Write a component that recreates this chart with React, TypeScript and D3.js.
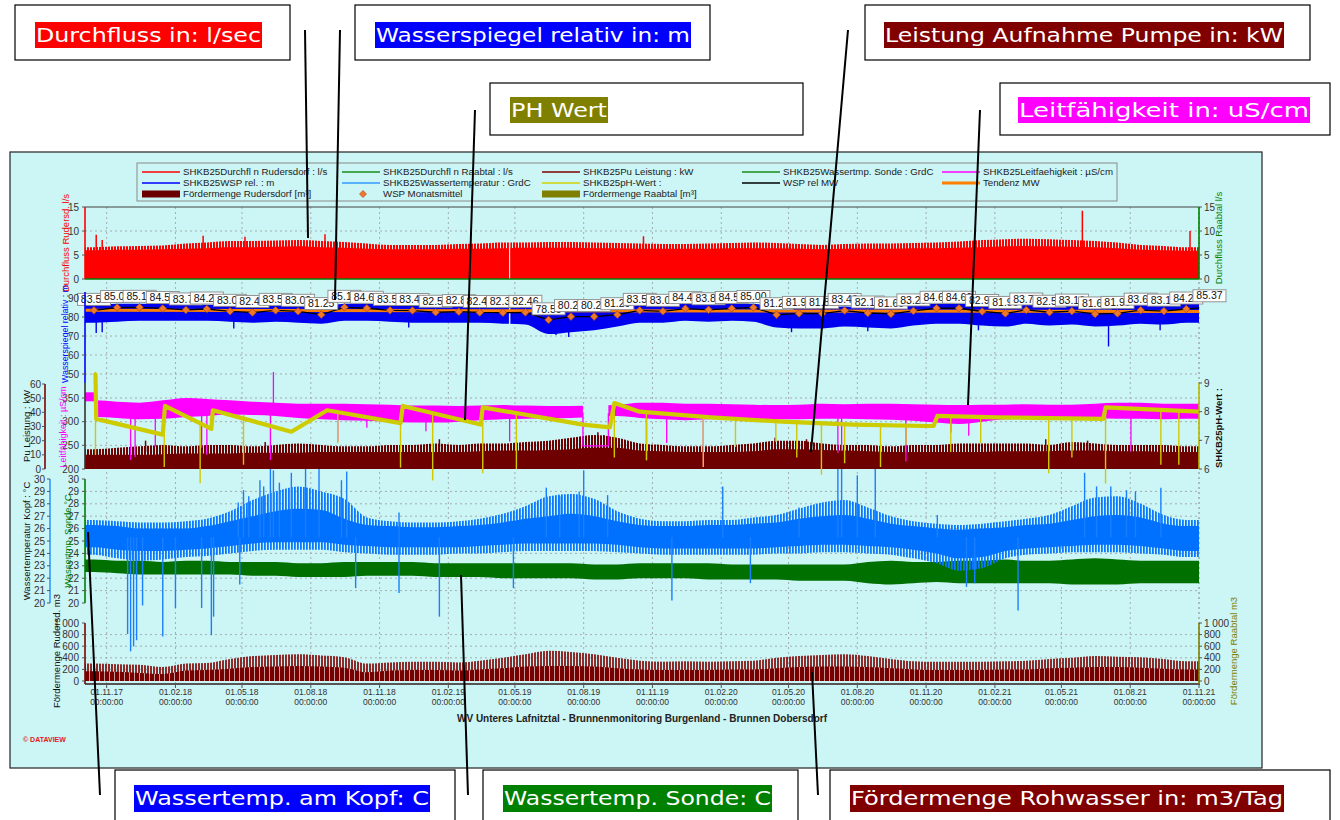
import React from "react";
import * as d3 from "d3";

// ---------- time axis ----------
const parse = d3.timeParse("%Y-%m-%d");
const D = (s: string) => parse(s) as Date;
const T_START = D("2017-10-03");
const T_END = D("2021-11-01");

// mid-month sample dates, Oct 2017 .. Oct 2021 (49 months)
const months = d3
  .timeMonth.range(new Date(2017, 9, 1), new Date(2021, 9, 2))
  .map((d) => new Date(d.getFullYear(), d.getMonth(), 15));
// monthly WSP means, Oct 2017 .. Nov 2021 (50 months)
const wspMonthDates = d3
  .timeMonth.range(new Date(2017, 9, 1), new Date(2021, 10, 2))
  .map((d) => new Date(d.getFullYear(), d.getMonth(), 15));
const xTickDates = d3.timeMonth.range(new Date(2017, 10, 1), new Date(2021, 10, 2), 3);

// ---------- data ----------
// Durchfluss Rudersdorf l/s (solid level / ragged top)
const rudBase = [6.0, 6.1, 6.1, 6.2, 6.3, 6.4, 6.6, 6.6, 6.7, 6.8, 6.6, 6.5, 6.3, 6.2, 6.2, 6.2, 6.3, 6.3, 6.4, 6.5, 6.5, 6.5, 6.4, 6.4, 6.3, 6.3, 6.3, 6.3, 6.4, 6.4, 6.4, 6.3, 6.2, 6.3, 6.3, 6.3, 6.4, 6.4, 6.5, 6.6, 6.8, 6.9, 6.8, 6.7, 6.6, 6.4, 6.1, 6.0, 5.9];
const rudTop = [6.6, 6.8, 6.9, 7.0, 7.4, 7.6, 7.9, 7.9, 8.0, 8.1, 7.9, 7.7, 7.4, 7.1, 7.1, 7.1, 7.3, 7.4, 7.6, 7.6, 7.7, 7.7, 7.6, 7.5, 7.4, 7.3, 7.3, 7.4, 7.5, 7.6, 7.5, 7.3, 7.1, 7.3, 7.4, 7.4, 7.5, 7.6, 7.8, 8.1, 8.3, 8.4, 8.3, 8.1, 7.9, 7.6, 7.1, 6.9, 6.6];
const rudSpikes: [string, number][] = [["2017-10-18", 9.2], ["2017-10-26", 8.1], ["2018-03-10", 9.0], ["2018-05-05", 8.8], ["2018-08-20", 9.3], ["2019-10-20", 8.9], ["2021-05-29", 14.2], ["2021-10-20", 10.0]];
const rudGap = ["2019-04-23", "2019-04-25"];
const raabFlow = [0, 0];

// Wasserspiegel relativ m
const wspLo = [77, 77.5, 78, 78, 78, 78, 77.5, 77, 77.5, 77, 76.5, 78, 78, 77.5, 77, 77, 77, 77, 76.5, 76, 71, 72, 73, 75, 77, 77, 78, 77.5, 78, 77.5, 74.5, 74, 74, 75, 74.5, 74, 75.5, 76.5, 76.5, 75.5, 75, 76.5, 75.5, 76, 75, 75.5, 76.5, 76, 77];
const wspHi = [86.5, 87, 87, 86.8, 86.5, 86.5, 86, 85.5, 86, 86, 85, 87, 87, 86.5, 86.5, 86, 86, 86, 85.5, 85.5, 83, 83.5, 84, 84.5, 86, 86, 87, 86.5, 87, 87, 85, 85, 85, 85.5, 85, 85, 86, 87, 87, 86, 85.5, 86.5, 86, 86, 85.5, 85.5, 86.5, 86, 87];
const wspSpikes: [string, number][] = [["2017-10-18", 71.6], ["2017-10-26", 72.0], ["2018-04-20", 74], ["2018-12-10", 74.5], ["2019-06-25", 70.5], ["2019-07-12", 69.5], ["2020-05-05", 72], ["2020-08-15", 72.5], ["2021-01-10", 73], ["2021-07-03", 64.5], ["2021-09-10", 73]];
const wspMonthly = [83.5, 85.0, 85.1, 84.5, 83.7, 84.2, 83.0, 82.4, 83.5, 83.0, 81.25, 85.1, 84.6, 83.5, 83.4, 82.5, 82.8, 82.4, 82.3, 82.46, 78.5, 80.2, 80.2, 81.2, 83.5, 83.0, 84.4, 83.8, 84.5, 85.0, 81.2, 81.9, 81.8, 83.4, 82.1, 81.6, 83.2, 84.6, 84.6, 82.9, 81.9, 83.7, 82.5, 83.1, 81.6, 81.9, 83.6, 83.1, 84.2, 85.37];
const tendenz = [83.5, 82.9];

// Pumpenleistung kW
const leiBase = [10, 10, 10, 10.5, 11, 11, 11, 11.5, 11.5, 11.5, 12, 12, 12, 12, 12, 12, 12, 12.5, 13, 13, 13.5, 14, 15, 15, 13, 12.5, 12, 12, 12, 12.5, 14, 14, 13.5, 13, 12.5, 12, 12, 12, 12, 12, 12.5, 12.5, 12.5, 13, 13, 12.5, 12.5, 12, 12];
const leiPeak = [14, 15, 16, 17, 16, 17, 17, 16, 17, 18, 17, 16, 16, 17, 17, 18, 17, 18, 18, 19, 20, 22, 24, 22, 18, 17, 16, 16, 17, 18, 20, 20, 18, 17, 17, 16, 17, 17, 18, 18, 18, 18, 17, 19, 18, 17, 17, 17, 16];
const leiSpikes: [string, number][] = [["2017-12-23", 20], ["2018-06-01", 19], ["2019-01-20", 21], ["2019-08-20", 26], ["2019-08-28", 24], ["2020-04-13", 22], ["2020-05-25", 21], ["2021-04-10", 21], ["2021-06-05", 20]];

// Leitfähigkeit µS/cm
const leitLo = [310, 308, 305, 306, 310, 312, 315, 314, 312, 308, 305, 303, 302, 300, 298, 298, 300, 303, 305, 306, 307, 308, 310, 312, 308, 305, 303, 305, 306, 306, 305, 305, 306, 306, 305, 304, 302, 298, 295, 300, 305, 306, 306, 306, 307, 306, 306, 305, 306];
const leitHi = [345, 342, 340, 345, 350, 348, 345, 342, 340, 338, 338, 338, 337, 336, 334, 334, 333, 334, 335, 334, 333, 333, 334, 335, 340, 340, 338, 338, 337, 336, 335, 336, 338, 337, 338, 338, 337, 336, 335, 336, 336, 337, 336, 336, 338, 340, 340, 338, 338];
const leitStart = { from: "2017-10-03", to: "2017-10-16", lo: 343, hi: 362 };
const leitGap = ["2019-07-31", "2019-09-03"];
const leitGapLevel = 249;
const leitSpikes: [string, number][] = [["2017-12-03", 219], ["2017-12-09", 225], ["2018-01-05", 247], ["2018-03-08", 245], ["2018-03-15", 230], ["2018-06-08", 219], ["2018-06-12", 405], ["2018-09-06", 258], ["2018-10-15", 287], ["2019-01-02", 280], ["2019-04-24", 258], ["2019-10-24", 219], ["2019-11-20", 255], ["2020-01-08", 205], ["2020-07-06", 234], ["2020-07-11", 238], ["2020-10-05", 216], ["2020-12-04", 277], ["2020-12-28", 270], ["2021-08-02", 237]];

// pH-Wert
const phLine: [string, number][] = [["2017-10-15", 9.35], ["2017-10-17", 9.3], ["2017-10-18", 7.75], ["2018-01-15", 7.2], ["2018-01-18", 8.2], ["2018-03-21", 7.4], ["2018-03-23", 8.05], ["2018-07-06", 7.3], ["2018-08-23", 8.05], ["2018-11-29", 7.6], ["2018-12-02", 8.2], ["2019-03-16", 7.55], ["2019-03-19", 8.15], ["2019-07-31", 7.55], ["2019-09-05", 7.45], ["2019-09-11", 8.3], ["2019-10-15", 8.0], ["2020-01-18", 7.8], ["2020-04-23", 7.65], ["2020-07-27", 7.55], ["2020-10-31", 7.5], ["2020-11-11", 7.5], ["2020-11-16", 7.85], ["2021-02-03", 7.8], ["2021-06-26", 7.75], ["2021-06-29", 8.15], ["2021-11-01", 8.0]];
const phSpikes: [string, number, number][] = [["2017-10-17", 9.3, 6.5], ["2018-01-17", 7.2, 6.07], ["2018-03-06", 7.6, 5.5], ["2018-05-03", 7.9, 6.15], ["2018-09-06", 7.95, 6.9], ["2018-11-29", 7.6, 6.05], ["2019-01-11", 8.0, 5.6], ["2019-03-19", 8.15, 5.85], ["2019-05-03", 7.9, 6.0], ["2019-09-11", 8.3, 6.4], ["2019-10-24", 7.95, 6.3], ["2020-01-08", 7.8, 6.07], ["2020-02-20", 7.75, 6.77], ["2020-04-14", 7.7, 6.95], ["2020-05-12", 7.65, 6.4], ["2020-06-14", 7.6, 5.8], ["2020-07-15", 7.6, 6.2], ["2020-09-01", 7.55, 6.07], ["2020-10-05", 7.5, 6.84], ["2020-12-04", 7.85, 6.6], ["2021-01-13", 7.8, 6.9], ["2021-04-14", 7.75, 5.85], ["2021-05-15", 7.75, 6.4], ["2021-06-29", 8.15, 5.5], ["2021-09-11", 8.05, 6.15], ["2021-10-05", 8.0, 6.15]];

// Wassertemperatur Kopf °C
const kopfMin = [23.9, 23.6, 23.4, 23.5, 23.7, 23.8, 24.0, 24.2, 24.3, 24.3, 24.3, 24.1, 24.0, 23.9, 23.9, 23.9, 24.0, 24.0, 24.1, 24.2, 24.2, 24.2, 24.2, 24.1, 24.0, 23.9, 23.9, 23.9, 23.9, 23.9, 24.0, 24.0, 24.1, 24.1, 24.0, 23.9, 23.6, 23.2, 22.6, 22.8, 23.6, 23.9, 24.0, 24.1, 24.1, 24.1, 24.0, 23.9, 23.7];
const kopfLo = [24.5, 24.3, 24.2, 24.2, 24.3, 24.4, 24.6, 24.8, 24.9, 24.9, 24.9, 24.7, 24.6, 24.5, 24.5, 24.5, 24.5, 24.6, 24.7, 24.8, 24.8, 24.8, 24.8, 24.7, 24.5, 24.4, 24.4, 24.4, 24.4, 24.4, 24.5, 24.6, 24.7, 24.7, 24.6, 24.5, 24.3, 24.0, 23.6, 23.7, 24.2, 24.4, 24.5, 24.6, 24.7, 24.7, 24.6, 24.4, 24.2];
const kopfHi = [26.3, 26.2, 26.0, 26.0, 26.0, 26.2, 26.6, 27.0, 27.4, 27.6, 27.5, 26.8, 26.3, 26.2, 26.1, 26.1, 26.2, 26.3, 26.5, 26.8, 27.0, 27.2, 27.0, 26.6, 26.3, 26.2, 26.2, 26.3, 26.3, 26.4, 26.5, 26.8, 27.0, 27.1, 26.8, 26.4, 26.2, 26.0, 25.9, 26.0, 26.1, 26.3, 26.4, 26.7, 27.0, 27.1, 26.9, 26.4, 26.2];
const kopfMax = [26.7, 26.6, 26.5, 26.5, 26.6, 26.8, 27.4, 28.3, 29.0, 29.4, 29.0, 28.4, 26.9, 26.6, 26.5, 26.5, 26.6, 26.8, 27.2, 27.8, 28.6, 28.8, 28.4, 27.4, 26.8, 26.6, 26.6, 26.7, 26.7, 26.9, 27.1, 27.6, 28.1, 28.3, 27.7, 27.0, 26.6, 26.4, 26.3, 26.4, 26.6, 26.8, 27.1, 27.8, 28.5, 28.6, 28.0, 27.1, 26.7];
const kopfSpikesDown: [string, number][] = [["2017-11-29", 17.5], ["2017-12-03", 16.1], ["2017-12-07", 16.5], ["2017-12-11", 17.0], ["2017-12-19", 19.8], ["2018-01-15", 17.3], ["2018-02-01", 19.6], ["2018-03-08", 19.6], ["2018-03-21", 17.4], ["2018-03-24", 18.9], ["2018-04-28", 21.5], ["2018-09-30", 21.2], ["2018-11-27", 20.8], ["2019-01-20", 18.9], ["2019-04-29", 21.2], ["2019-11-27", 20.2], ["2020-03-11", 21.6], ["2020-12-25", 21.3], ["2021-01-05", 21.6], ["2021-03-04", 19.4]];
const kopfSpikesUp: [string, number][] = [["2018-04-26", 28.1], ["2018-05-03", 29.1], ["2018-05-10", 28.6], ["2018-05-25", 29.9], ["2018-05-30", 29.4], ["2018-06-08", 30.9], ["2018-06-12", 30.7], ["2018-06-20", 29.7], ["2018-07-06", 30.5], ["2018-07-25", 30.9], ["2018-08-12", 30.9], ["2018-09-11", 29.9], ["2018-09-18", 30.6], ["2018-11-27", 27.3], ["2019-06-12", 29.3], ["2019-06-30", 28.6], ["2019-07-26", 29.0], ["2019-08-01", 30.7], ["2019-09-02", 28.7], ["2020-02-03", 29.4], ["2020-05-15", 27.7], ["2020-07-06", 31.0], ["2020-07-11", 31.0], ["2020-08-01", 30.3], ["2020-08-25", 31.0], ["2020-11-16", 27.1], ["2021-06-01", 30.5], ["2021-06-17", 29.4], ["2021-07-06", 29.4], ["2021-07-27", 29.1], ["2021-08-08", 29.0], ["2021-09-11", 29.3]];
const KOPF_CORE = 25.3;

// Wassertemperatur Sonde °C
const sondeLo = [22.5, 22.4, 22.3, 22.3, 22.3, 22.3, 22.3, 22.2, 22.2, 22.1, 22.1, 22.1, 22.2, 22.2, 22.2, 22.1, 22.1, 22.1, 22.0, 22.0, 22.0, 22.0, 21.9, 21.9, 22.0, 22.0, 22.0, 21.9, 21.9, 21.9, 21.9, 21.8, 21.8, 21.8, 21.6, 21.5, 21.6, 21.7, 21.6, 21.6, 21.6, 21.6, 21.6, 21.5, 21.5, 21.5, 21.6, 21.6, 21.6];
const sondeHi = [23.5, 23.4, 23.4, 23.3, 23.4, 23.4, 23.3, 23.3, 23.3, 23.2, 23.2, 23.3, 23.3, 23.3, 23.3, 23.2, 23.2, 23.2, 23.2, 23.2, 23.2, 23.2, 23.1, 23.1, 23.2, 23.2, 23.2, 23.2, 23.1, 23.1, 23.1, 23.1, 23.1, 23.1, 23.3, 23.4, 23.3, 23.3, 23.4, 23.4, 23.5, 23.4, 23.4, 23.5, 23.6, 23.5, 23.4, 23.4, 23.4];

// Fördermenge Rudersdorf m³/Tag
const foerBase = [170, 160, 140, 120, 180, 190, 210, 240, 250, 260, 250, 230, 150, 180, 190, 190, 180, 200, 220, 250, 260, 260, 250, 220, 200, 190, 190, 190, 200, 200, 220, 240, 250, 250, 240, 220, 200, 190, 190, 190, 200, 200, 220, 230, 240, 240, 230, 210, 200];
const foerPeak = [300, 290, 280, 240, 300, 310, 380, 430, 450, 460, 440, 410, 300, 320, 330, 330, 320, 350, 400, 460, 520, 500, 460, 400, 350, 330, 340, 330, 340, 350, 400, 430, 450, 460, 430, 380, 340, 330, 330, 330, 340, 350, 380, 400, 430, 420, 410, 380, 340];

// axis ticks
const rudTicks = [0, 5, 10, 15];
const wspTicks = [50, 60, 70, 80, 90];
const leiTicks = [0, 10, 20, 30, 40, 50, 60];
const leitTicks = [200, 250, 300, 350];
const phTicks = [6, 7, 8, 9];
const tempTicks = [20, 21, 22, 23, 24, 25, 26, 27, 28, 29, 30];
const foerTicks = [0, 200, 400, 600, 800, 1000];

// ---------- layout ----------
const W = 1340, H = 820;
const PL = 85, PR = 1199, PT = 207, PB = 684;
const FONT = '"Liberation Sans", Arial, Helvetica, sans-serif';
const BG = "#ccf5f5";

const x = d3.scaleTime().domain([T_START, T_END]).range([PL, PR]);
const yRud = d3.scaleLinear().domain([0, 15]).range([279, 207]);
const yWsp = d3.scaleLinear().domain([50, 90]).range([374, 298]);
const yLei = d3.scaleLinear().domain([0, 60]).range([469, 384]);
const yLeit = d3.scaleLinear().domain([200, 350]).range([469, 398]);
const yPh = d3.scaleLinear().domain([6, 9]).range([469, 383]);
const yTemp = d3.scaleLinear().domain([20, 30]).range([603, 479]);
const yFoer = d3.scaleLinear().domain([0, 1000]).range([681, 623]);

type BandPt = { d: Date; a: number; b: number };
function band(lo: number[] | null, hi: number[]): BandPt[] {
  const l = (i: number) => (lo ? lo[i] : 0);
  const n = hi.length - 1;
  return [
    { d: T_START, a: l(0), b: hi[0] },
    ...months.map((d, i) => ({ d, a: l(i), b: hi[i] })),
    { d: T_END, a: l(n), b: hi[n] },
  ];
}
function bandPath(pts: BandPt[], y: d3.ScaleLinear<number, number>) {
  return (
    d3
      .area<BandPt>()
      .x((p) => x(p.d))
      .y0((p) => y(p.a))
      .y1((p) => y(p.b))
      .curve(d3.curveMonotoneX)(pts) || ""
  );
}

const spaceFmt = d3.formatLocale({ decimal: ",", thousands: " ", grouping: [3], currency: ["", "€"] }).format(",");
const dateFmt = d3.timeFormat("%d.%m.%y");

type AxisProps = {
  ax: number;
  y: d3.ScaleLinear<number, number>;
  ticks: number[];
  side: "left" | "right";
  color: string;
  span: [number, number];
  fmt?: (v: number) => string;
  gap?: number;
};
function VAxis({ ax, y, ticks, side, color, span, fmt, gap = 6 }: AxisProps) {
  const s = side === "left" ? -1 : 1;
  return (
    <g>
      <line x1={ax} x2={ax} y1={span[0]} y2={span[1]} stroke={color} strokeWidth={1.6} />
      {ticks.map((t) => (
        <g key={t}>
          <line x1={ax} x2={ax + s * 3} y1={y(t)} y2={y(t)} stroke="#555" strokeWidth={1} />
          <text
            x={ax + s * gap}
            y={y(t)}
            dy="0.35em"
            textAnchor={side === "left" ? "end" : "start"}
            fontSize={10}
            fill="#333"
          >
            {fmt ? fmt(t) : String(t)}
          </text>
        </g>
      ))}
    </g>
  );
}

function VTitle({ cx, cy, text, color, bold, size = 9.5 }: { cx: number; cy: number; text: string; color: string; bold?: boolean; size?: number }) {
  return (
    <text
      transform={`translate(${cx},${cy}) rotate(-90)`}
      textAnchor="middle"
      dominantBaseline="central"
      fontSize={size}
      fontWeight={bold ? 700 : 400}
      fill={color}
    >
      {text}
    </text>
  );
}

function Spikes({ list, y, from, color, width = 1.2 }: { list: [string, number][]; y: d3.ScaleLinear<number, number>; from: number; color: string; width?: number }) {
  return (
    <g>
      {list.map(([d, v], i) => (
        <line key={i} x1={x(D(d))} x2={x(D(d))} y1={y(from)} y2={y(v)} stroke={color} strokeWidth={width} />
      ))}
    </g>
  );
}

// legend entries: [label, color, kind]
const legendRows: [string, string, string][][] = [
  [
    ["SHKB25Durchfl n Rudersdorf : l/s", "#ff0000", "line"],
    ["SHKB25Durchfl n Raabtal : l/s", "#1a8a1a", "line"],
    ["SHKB25Pu Leistung : kW", "#800000", "line"],
    ["SHKB25Wassertmp. Sonde : GrdC", "#1a8a1a", "line"],
    ["SHKB25Leitfaehigkeit : µS/cm", "#ff00ff", "line"],
  ],
  [
    ["SHKB25WSP rel. : m", "#0000ff", "line"],
    ["SHKB25Wassertemperatur : GrdC", "#3399ff", "line"],
    ["SHKB25pH-Wert :", "#d0d000", "line"],
    ["WSP rel MW", "#000000", "line"],
    ["Tendenz MW", "#ff7f00", "thick"],
  ],
  [
    ["Fördermenge Rudersdorf [m³]", "#6b0000", "rect"],
    ["WSP Monatsmittel", "#f07828", "diamond"],
    ["Fördermenge Raabtal [m³]", "#808000", "rect"],
  ],
];

// callout boxes: box [x0,y0,x1,y1], highlight [x0,y0,x1,y1], colour, text, pointer line
const callouts: { box: number[]; hl: number[]; color: string; text: string; ptr: number[] }[] = [
  { box: [15, 5, 290, 60], hl: [35, 22, 262, 48], color: "#ff0000", text: "Durchfluss in: l/sec", ptr: [305, 30, 308, 238] },
  { box: [355, 5, 710, 60], hl: [375, 22, 691, 48], color: "#0000ff", text: "Wasserspiegel relativ in: m", ptr: [340, 30, 335, 300] },
  { box: [865, 5, 1310, 60], hl: [884, 22, 1284, 48], color: "#800000", text: "Leistung Aufnahme Pumpe in: kW", ptr: [848, 30, 811, 452] },
  { box: [490, 83, 803, 135], hl: [510, 97, 608, 123], color: "#808000", text: "PH Wert", ptr: [475, 110, 465, 420] },
  { box: [1000, 83, 1330, 135], hl: [1018, 97, 1310, 123], color: "#ff00ff", text: "Leitfähigkeit in: uS/cm", ptr: [980, 110, 968, 405] },
  { box: [115, 770, 455, 826], hl: [134, 785, 430, 812], color: "#0000ff", text: "Wassertemp. am Kopf: C", ptr: [100, 795, 88, 532] },
  { box: [483, 770, 798, 826], hl: [503, 785, 772, 812], color: "#008000", text: "Wassertemp. Sonde: C", ptr: [468, 795, 461, 575] },
  { box: [830, 770, 1330, 826], hl: [850, 785, 1284, 812], color: "#800000", text: "Fördermenge Rohwasser in: m3/Tag", ptr: [818, 795, 812, 672] },
];

export default function App() {
  const rudBand = band(null, rudTop);
  const rudSolid = band(null, rudBase);
  const wspBand = band(wspLo, wspHi);
  const leiSolid = band(null, leiBase);
  const leiFuzz = band(null, leiPeak);
  const leitBand = band(leitLo, leitHi);
  const kopfFuzz = band(kopfMin, kopfMax);
  const kopfCore = band(kopfLo, kopfHi);
  const sondeBand = band(sondeLo, sondeHi);
  const foerSolid = band(null, foerBase);
  const foerFuzz = band(null, foerPeak);

  const wspPts = wspMonthly.map((v, i) => ({ d: wspMonthDates[i], v }));
  const meanLine = d3.line<{ d: Date; v: number }>().x((p) => x(p.d)).y((p) => yWsp(p.v))(wspPts) || "";
  const phPath =
    d3
      .line<[string, number]>()
      .x((p) => x(D(p[0])))
      .y((p) => yPh(p[1]))(phLine) || "";

  const g0 = x(D(rudGap[0])), g1 = x(D(rudGap[1]));
  const l0 = x(D(leitGap[0])), l1 = x(D(leitGap[1]));
  const ls = x(D(leitStart.to)) + 1;

  return (
    <svg
      width={W}
      height={H}
      viewBox={`0 0 ${W} ${H}`}
      style={{ position: "absolute", left: 0, top: 0, background: "#fff" }}
      fontFamily={FONT}
    >
      <defs>
        <clipPath id="plot">
          <rect x={PL} y={PT} width={PR - PL} height={PB - PT} />
        </clipPath>
        <clipPath id="gapRud">
          <rect x={PL} y={PT} width={g0 - PL} height={PB - PT} />
          <rect x={g1} y={PT} width={PR - g1} height={PB - PT} />
        </clipPath>
        <clipPath id="gapLeit">
          <rect x={ls} y={PT} width={l0 - ls} height={PB - PT} />
          <rect x={l1} y={PT} width={PR - l1} height={PB - PT} />
        </clipPath>
        {/* daily-bar texture for the pumped volume */}
        <pattern id="comb" width={5} height={10} patternUnits="userSpaceOnUse">
          <rect width={5} height={10} fill="#760000" />
          <rect x={4} width={1} height={10} fill="#c79a9a" />
        </pattern>
        <pattern id="combTop" width={3} height={10} patternUnits="userSpaceOnUse">
          <rect width={2} height={10} fill="#8e2a2a" />
        </pattern>
        <pattern id="redTop" width={3} height={10} patternUnits="userSpaceOnUse">
          <rect width={2} height={10} fill="#ff0000" />
        </pattern>
        <pattern id="blueTop" width={3} height={10} patternUnits="userSpaceOnUse">
          <rect width={1.8} height={10} fill="#0a78ff" />
        </pattern>
        <pattern id="leiTop" width={3} height={10} patternUnits="userSpaceOnUse">
          <rect width={2} height={10} fill="#6e0000" />
        </pattern>
      </defs>

      {/* chart frame */}
      <rect x={10} y={152} width={1252} height={616} fill={BG} stroke="#222" strokeWidth={1.2} />

      {/* legend */}
      <rect x={137} y={163} width={980} height={38} fill={BG} stroke="#8a8a8a" strokeWidth={1} />
      {legendRows.map((row, r) =>
        row.map(([label, color, kind], c) => {
          const sx = 142 + c * 200;
          const sy = 172 + r * 11;
          return (
            <g key={`${r}-${c}`}>
              {kind === "line" && <line x1={sx} x2={sx + 38} y1={sy} y2={sy} stroke={color} strokeWidth={1.3} />}
              {kind === "thick" && <line x1={sx} x2={sx + 38} y1={sy} y2={sy} stroke={color} strokeWidth={3} />}
              {kind === "rect" && <rect x={sx} y={sy - 3.5} width={38} height={7} fill={color} />}
              {kind === "diamond" && (
                <path d="M0,-3.5L3.5,0L0,3.5L-3.5,0Z" transform={`translate(${sx + 21},${sy})`} fill={color} stroke="#a04010" strokeWidth={0.6} />
              )}
              <text x={sx + 41} y={sy} dy="0.35em" fontSize={9.7} fill="#222">
                {label}
              </text>
            </g>
          );
        })
      )}

      {/* grid */}
      <g stroke="#9a9a9a" strokeWidth={0.8} strokeDasharray="2,3">
        {xTickDates.map((d, i) => (
          <line key={i} x1={x(d)} x2={x(d)} y1={PT} y2={PB} />
        ))}
        {[5, 10].map((t) => (
          <line key={`r${t}`} x1={PL} x2={PR} y1={yRud(t)} y2={yRud(t)} />
        ))}
        {[50, 60, 70, 80].map((t) => (
          <line key={`w${t}`} x1={PL} x2={PR} y1={yWsp(t)} y2={yWsp(t)} />
        ))}
        {[250, 300, 350].map((t) => (
          <line key={`l${t}`} x1={PL} x2={PR} y1={yLeit(t)} y2={yLeit(t)} />
        ))}
        {tempTicks.slice(1, -1).map((t) => (
          <line key={`t${t}`} x1={PL} x2={PR} y1={yTemp(t)} y2={yTemp(t)} />
        ))}
        {[200, 400, 600, 800].map((t) => (
          <line key={`f${t}`} x1={PL} x2={PR} y1={yFoer(t)} y2={yFoer(t)} />
        ))}
        <line x1={PR} x2={PR} y1={PT} y2={PB} />
      </g>

      <g clipPath="url(#plot)">
        {/* Fördermenge */}
        <path d={bandPath(foerFuzz, yFoer)} fill="url(#combTop)" />
        <path d={bandPath(foerSolid, yFoer)} fill="url(#comb)" />

        {/* Temperatures */}
        <path d={bandPath(sondeBand, yTemp)} fill="#007000" />
        <path d={bandPath(kopfFuzz, yTemp)} fill="url(#blueTop)" />
        <path d={bandPath(kopfCore, yTemp)} fill="#0070ff" />
        <Spikes list={kopfSpikesDown} y={yTemp} from={KOPF_CORE} color="#1a7fff" width={1.4} />
        <Spikes list={kopfSpikesUp} y={yTemp} from={KOPF_CORE} color="#1a7fff" width={1.4} />

        {/* Leistung / Leitfähigkeit / pH */}
        <path d={bandPath(leiFuzz, yLei)} fill="url(#leiTop)" />
        <path d={bandPath(leiSolid, yLei)} fill="#6e0000" />
        <Spikes list={leiSpikes} y={yLei} from={12} color="#6e0000" width={1.5} />
        <g clipPath="url(#gapLeit)">
          <path d={bandPath(leitBand, yLeit)} fill="#ff00ff" />
          <Spikes list={leitSpikes} y={yLeit} from={320} color="#ff00ff" width={1.3} />
        </g>
        <rect
          x={x(D(leitStart.from))}
          y={yLeit(leitStart.hi)}
          width={x(D(leitStart.to)) - x(D(leitStart.from))}
          height={yLeit(leitStart.lo) - yLeit(leitStart.hi)}
          fill="#ff00ff"
        />
        <path
          d={`M${l0},${yLeit(318)}V${yLeit(leitGapLevel)}H${l1}V${yLeit(318)}`}
          fill="none"
          stroke="#ff00ff"
          strokeWidth={1.3}
        />
        <path d={phPath} fill="none" stroke="#cccc00" strokeWidth={4.2} strokeLinejoin="round" />
        {phSpikes.map(([d, a, b], i) => (
          <line key={i} x1={x(D(d))} x2={x(D(d))} y1={yPh(a)} y2={yPh(b)} stroke="#d2c800" strokeWidth={1.4} />
        ))}

        {/* Wasserspiegel */}
        <g clipPath="url(#gapRud)">
          <path d={bandPath(wspBand, yWsp)} fill="#0000f0" />
          <Spikes list={wspSpikes} y={yWsp} from={78} color="#0000f0" width={1.4} />
        </g>
        <line x1={x(T_START)} x2={x(T_END)} y1={yWsp(tendenz[0])} y2={yWsp(tendenz[1])} stroke="#ff7f00" strokeWidth={3} />
        <path d={meanLine} fill="none" stroke="#000" strokeWidth={1.3} />
        {wspPts.map((p, i) => (
          <path
            key={i}
            d="M0,-3.8L3.8,0L0,3.8L-3.8,0Z"
            transform={`translate(${x(p.d)},${yWsp(p.v)})`}
            fill="#f07828"
            stroke="#a84a10"
            strokeWidth={0.7}
          />
        ))}

        {/* Durchfluss */}
        <g clipPath="url(#gapRud)">
          <path d={bandPath(rudBand, yRud)} fill="url(#redTop)" />
          <path d={bandPath(rudSolid, yRud)} fill="#ff0000" />
          <Spikes list={rudSpikes} y={yRud} from={6} color="#ff0000" width={1.5} />
        </g>
        <line x1={x(T_START)} x2={x(T_END)} y1={yRud(raabFlow[0])} y2={yRud(raabFlow[1])} stroke="#008000" strokeWidth={1.6} />
      </g>

      {/* monthly mean labels */}
      {wspPts.map((p, i) => {
        const px = x(p.d);
        const py = yWsp(p.v);
        return (
          <g key={i}>
            <rect x={px - 16.5} y={py - 17} width={33} height={12} fill="#fff" stroke="#8a8a8a" strokeWidth={0.9} />
            <text x={px} y={py - 7.3} textAnchor="middle" fontSize={10.5} fill="#111">
              {p.v.toFixed(2)}
            </text>
          </g>
        );
      })}

      {/* plot borders */}
      <line x1={PL} x2={PR} y1={PT} y2={PT} stroke="#444" strokeWidth={1.2} />
      <line x1={PL} x2={PR + 1} y1={PB} y2={PB} stroke="#555" strokeWidth={2} />

      {/* left axes */}
      <VAxis ax={PL} y={yRud} ticks={rudTicks} side="left" color="#ff0000" span={[207, 279]} />
      <VAxis ax={PL} y={yWsp} ticks={wspTicks} side="left" color="#0000ff" span={[292, 383]} />
      <VAxis ax={PL} y={yLeit} ticks={leitTicks} side="left" color="#333" span={[383, 469]} />
      <VAxis ax={45} y={yLei} ticks={leiTicks} side="left" color="#800000" span={[384, 469]} gap={4} />
      <VAxis ax={PL} y={yTemp} ticks={tempTicks} side="left" color="#008000" span={[479, 603]} />
      <VAxis ax={50} y={yTemp} ticks={tempTicks} side="left" color="#3399ff" span={[479, 603]} gap={5} />
      <VAxis ax={PL} y={yFoer} ticks={foerTicks} side="left" color="#800000" span={[623, 684]} fmt={spaceFmt} />

      {/* right axes */}
      <VAxis ax={PR} y={yRud} ticks={rudTicks} side="right" color="#008000" span={[207, 279]} gap={5} />
      <VAxis ax={PR} y={yPh} ticks={phTicks} side="right" color="#b8b800" span={[383, 469]} gap={5} />
      <VAxis ax={PR} y={yFoer} ticks={foerTicks} side="right" color="#808000" span={[623, 684]} fmt={spaceFmt} gap={5} />

      {/* axis titles */}
      <VTitle cx={65} cy={243} text="Durchfluss Rudersd. l/s" color="#ff0000" />
      <VTitle cx={65} cy={334} text="Wasserspiegel relativ : m" color="#0000ff" size={8.8} />
      <VTitle cx={26} cy={426} text="Pu Leistung : kW" color="#111" />
      <VTitle cx={63} cy={427} text="Leitfähigkeit : µS/cm" color="#ff00ff" size={9} />
      <VTitle cx={26} cy={541} text="Wassertemperatur Kopf : °C" color="#111" />
      <VTitle cx={67} cy={541} text="Wassertmp. Sonde °C" color="#008000" />
      <VTitle cx={56} cy={651} text="Fördermenge Rudersd. m3" color="#111" />
      <VTitle cx={1218} cy={238} text="Durchfluss Raabtal l/s" color="#008000" />
      <VTitle cx={1218} cy={428} text="SHKB25pH-Wert :" color="#111" bold />
      <VTitle cx={1233} cy={651} text="Fördermenge Raabtal m3" color="#808000" />

      {/* x axis */}
      {xTickDates.map((d, i) => (
        <g key={i}>
          <line x1={x(d)} x2={x(d)} y1={PB} y2={PB + 4} stroke="#555" />
          <text x={x(d)} y={695} textAnchor="middle" fontSize={8.5} fill="#333">
            {dateFmt(d)}
          </text>
          <text x={x(d)} y={705} textAnchor="middle" fontSize={8.5} fill="#333">
            00:00:00
          </text>
        </g>
      ))}
      <text x={642} y={722} textAnchor="middle" fontSize={10} fontWeight={700} fill="#222">
        WV Unteres Lafnitztal - Brunnenmonitoring Burgenland - Brunnen Dobersdorf
      </text>
      <text x={23} y={742} fontSize={7} fontWeight={700} fill="#e02020">
        © DATAVIEW
      </text>

      {/* callouts */}
      {callouts.map((c, i) => (
        <g key={i}>
          <line x1={c.ptr[0]} y1={c.ptr[1]} x2={c.ptr[2]} y2={c.ptr[3]} stroke="#000" strokeWidth={2} />
          <rect x={c.box[0]} y={c.box[1]} width={c.box[2] - c.box[0]} height={c.box[3] - c.box[1]} fill="#fff" stroke="#000" strokeWidth={1.2} />
          <rect x={c.hl[0]} y={c.hl[1]} width={c.hl[2] - c.hl[0]} height={c.hl[3] - c.hl[1]} fill={c.color} />
          <text
            x={c.hl[0] + 1}
            y={c.hl[1] + 20}
            fontFamily='"DejaVu Sans", Verdana, sans-serif'
            fontSize={19}
            fill="#fff"
            textLength={c.hl[2] - c.hl[0] - 2}
            lengthAdjust="spacingAndGlyphs"
          >
            {c.text}
          </text>
        </g>
      ))}
    </svg>
  );
}
